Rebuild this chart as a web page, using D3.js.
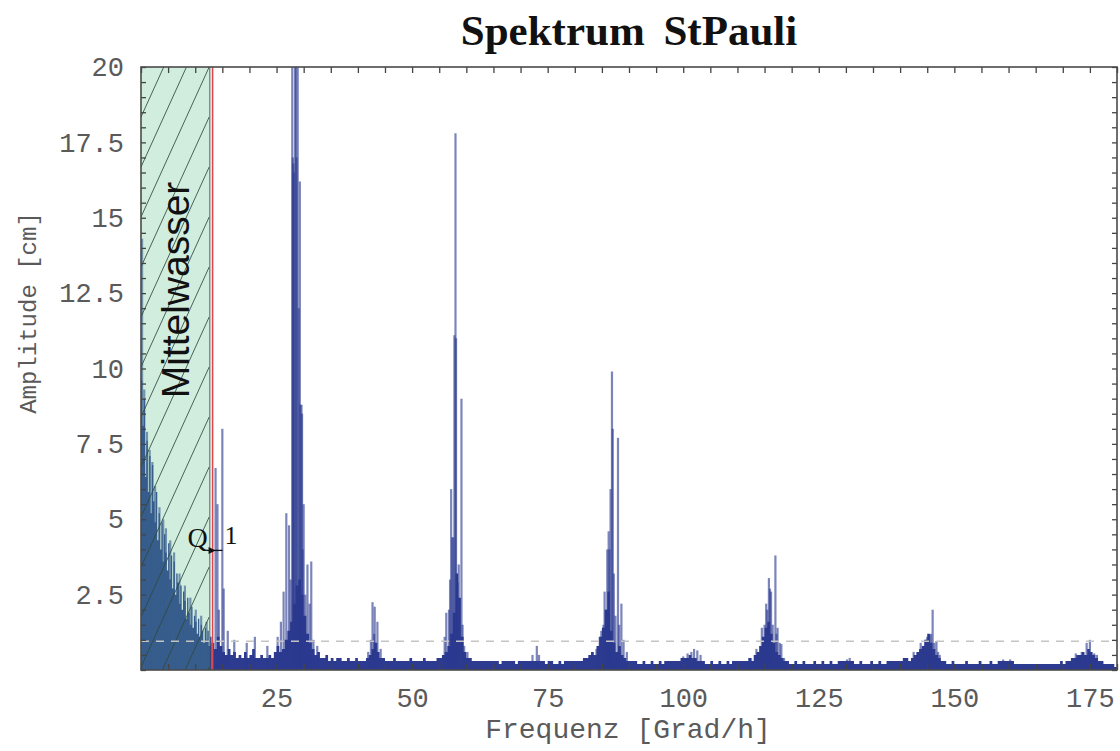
<!DOCTYPE html>
<html>
<head>
<meta charset="utf-8">
<script src="https://cdn.jsdelivr.net/npm/d3@7"></script>
<style>
  html, body { margin: 0; padding: 0; background: #fff; }
  svg { display: block; }
</style>
</head>
<body>
<svg id="chart" width="1120" height="751"></svg>
<script>
// ---------------- DATA ----------------
const title = "Spektrum StPauli";
const xLabel = "Frequenz [Grad/h]";
const yLabel = "Amplitude [cm]";
const xTickLabels = [25, 50, 75, 100, 125, 150, 175];
const yTickLabels = [2.5, 5, 7.5, 10, 12.5, 15, 17.5, 20];
const meanWaterLimit = 12.7;     // end of "Mittelwasser" band [Grad/h]
const q1Frequency = 13.2;        // red line (Q1)
const thresholdAmp = 0.95;       // dashed grey level [cm]

// low-frequency part of the spectrum, 0 .. 12.75 Grad/h, every 0.25
const lowStart = 0, lowStep = 0.25;
const lowAmps = [9.6, 8.1, 9.0, 6.4, 7.6, 5.9, 7.1, 5.2, 6.8, 5.6,
                 4.9, 5.9, 4.3, 5.2, 4.0, 4.9, 3.6, 4.5, 3.9, 3.3,
                 4.2, 3.0, 3.8, 2.7, 3.6, 2.5, 3.2, 2.9, 2.2, 2.8,
                 2.0, 2.6, 2.3, 1.7, 2.4, 1.9, 1.5, 2.1, 1.4, 1.8,
                 1.6, 1.2, 1.7, 1.1, 1.5, 1.3, 0.9, 1.4, 1.0, 1.3,
                 0.8, 1.1];

// background noise floor, 13 .. 180 Grad/h, every 0.5
const noiseStart = 13, noiseStep = 0.5;
const noiseAmps = [
  0.9, 0.7, 1.1, 0.8, 0.6, 0.5, 0.7, 0.5, 0.6, 0.4,   // 13
  0.5, 0.4, 0.6, 0.4, 0.5, 0.7, 0.4, 0.4, 0.5, 0.4,   // 18
  0.4, 0.5, 0.4, 0.6, 0.8, 0.6, 0.7, 1.0, 1.3, 1.6,   // 23
  2.2, 2.8, 3.0, 2.5, 1.8, 1.2, 0.9, 0.7, 0.5, 0.6,   // 28
  0.4, 0.4, 0.5, 0.3, 0.4, 0.3, 0.4, 0.4, 0.3, 0.3,   // 33
  0.4, 0.3, 0.3, 0.4, 0.3, 0.3, 0.3, 0.4, 0.5, 0.7,   // 38
  0.9, 0.6, 0.4, 0.4, 0.3, 0.3, 0.3, 0.4, 0.3, 0.3,   // 43
  0.3, 0.3, 0.3, 0.4, 0.3, 0.3, 0.3, 0.3, 0.4, 0.3,   // 48
  0.3, 0.3, 0.3, 0.4, 0.4, 0.5, 0.6, 0.8, 1.2, 1.9,   // 53
  3.2, 2.4, 1.1, 0.6, 0.4, 0.4, 0.3, 0.3, 0.3, 0.3,   // 58
  0.3, 0.3, 0.3, 0.3, 0.3, 0.3, 0.2, 0.3, 0.3, 0.3,   // 63
  0.3, 0.3, 0.2, 0.3, 0.3, 0.3, 0.3, 0.3, 0.3, 0.3,   // 68
  0.3, 0.3, 0.3, 0.2, 0.3, 0.3, 0.2, 0.2, 0.3, 0.2,   // 73
  0.3, 0.3, 0.3, 0.3, 0.3, 0.3, 0.3, 0.4, 0.4, 0.5,   // 78
  0.6, 0.5, 0.8, 1.1, 1.4, 2.0, 2.6, 1.3, 0.9, 0.6,   // 83
  0.8, 0.5, 0.4, 0.3, 0.3, 0.3, 0.3, 0.2, 0.2, 0.3,   // 88
  0.2, 0.2, 0.3, 0.2, 0.2, 0.3, 0.2, 0.3, 0.3, 0.3,   // 93
  0.3, 0.3, 0.3, 0.4, 0.4, 0.4, 0.5, 0.4, 0.4, 0.3,   // 98
  0.3, 0.3, 0.2, 0.2, 0.3, 0.2, 0.2, 0.3, 0.2, 0.2,   // 103
  0.3, 0.2, 0.3, 0.3, 0.3, 0.3, 0.3, 0.3, 0.4, 0.3,   // 108
  0.5, 0.6, 0.8, 1.1, 1.4, 1.6, 1.2, 0.9, 0.6, 0.5,   // 113
  0.4, 0.3, 0.3, 0.2, 0.2, 0.3, 0.2, 0.2, 0.3, 0.2,   // 118
  0.2, 0.2, 0.3, 0.2, 0.2, 0.3, 0.2, 0.2, 0.3, 0.2,   // 123
  0.2, 0.3, 0.3, 0.3, 0.3, 0.3, 0.3, 0.2, 0.2, 0.3,   // 128
  0.2, 0.2, 0.2, 0.3, 0.2, 0.2, 0.3, 0.2, 0.2, 0.3,   // 133
  0.3, 0.3, 0.3, 0.3, 0.3, 0.4, 0.4, 0.3, 0.4, 0.5,   // 138
  0.6, 0.7, 0.8, 1.0, 1.2, 0.9, 0.7, 0.5, 0.4, 0.3,   // 143
  0.3, 0.2, 0.2, 0.3, 0.2, 0.2, 0.2, 0.2, 0.3, 0.2,   // 148
  0.2, 0.2, 0.2, 0.3, 0.2, 0.2, 0.2, 0.3, 0.2, 0.2,   // 153
  0.3, 0.3, 0.3, 0.3, 0.3, 0.3, 0.2, 0.2, 0.2, 0.2,   // 158
  0.2, 0.2, 0.2, 0.2, 0.2, 0.2, 0.2, 0.2, 0.2, 0.2,   // 163
  0.2, 0.2, 0.2, 0.3, 0.2, 0.3, 0.3, 0.4, 0.4, 0.5,   // 168
  0.5, 0.6, 0.5, 0.7, 0.6, 0.5, 0.4, 0.3, 0.3, 0.2,   // 173
  0.2, 0.2, 0.2, 0.1, 0.1                              // 178
];

// resolved spectral lines (frequency [Grad/h], amplitude [cm])
const lineFreqs = [
  0.2, 0.6, 1.1, 1.6, 2.1, 2.6, 3.4, 4.1, 4.6, 5.4, 6.1, 7.1, 8.1, 9.1, 10.1, 11.1, 12.1,
  13.75, 14.1, 14.35, 15.0, 15.25, 16.0, 17.2, 19.5, 21.0, 23.3,
  25.2, 25.8, 26.3, 26.8, 27.3, 27.6, 27.9, 28.0, 28.1, 28.2, 28.4, 28.6, 28.7, 28.9,
  29.1, 29.3, 29.4, 29.6, 29.7, 29.8, 30.0, 30.3, 30.7, 31.1, 31.4, 31.8, 32.5,
  41.9, 42.4, 42.7, 43.0, 43.1, 43.4, 43.6, 44.2,
  56.0, 56.3, 56.8, 57.0, 57.2, 57.4, 57.6, 57.8, 58.0, 58.1, 58.4, 58.6, 59.1, 59.3, 59.6, 60.2,
  72.2, 73.0, 73.4,
  84.0, 84.6, 84.9, 85.3, 85.5, 85.8, 86.0, 86.25, 86.4, 86.6, 86.86, 87.0, 87.2, 87.5, 87.97, 88.2, 88.6, 89.0, 89.6,
  100.0, 100.8, 101.5, 102.0, 102.6, 103.2,
  112.5, 113.5, 114.0, 114.5, 114.8, 115.0, 115.3, 115.5, 115.8, 116.0, 116.2, 116.5, 117.0, 117.2, 117.4, 117.8, 118.1, 118.6,
  129.5, 130.2, 130.7, 131.2,
  142.5, 143.2, 143.8, 144.3, 144.6, 145.0, 145.4, 145.7, 146.0, 146.3, 146.7, 147.0, 147.3,
  158.3, 159.0, 159.6, 160.3,
  171.3, 172.4, 173.0, 173.5, 174.0, 174.4, 175.0, 175.4, 175.8, 176.3, 177.0
];
const lineAmps = [
  14.3, 9.3, 7.9, 7.3, 6.9, 6.1, 5.4, 5.0, 4.7, 4.3, 3.9, 3.2, 2.8, 2.4, 2.0, 1.8, 1.6,
  6.7, 5.5, 2.0, 8.0, 2.7, 1.3, 1.0, 0.9, 1.1, 0.8,
  1.1, 1.6, 2.6, 5.2, 4.8, 3.0, 22, 17, 16.8, 16.5, 21, 20.5, 17, 24,
  12, 16.2, 8.8, 8.8, 8.5, 4.0, 5.5, 2.5, 3.5, 2.2, 3.6, 1.0, 0.8,
  0.6, 1.0, 2.25, 1.2, 2.1, 0.9, 1.6, 0.7,
  1.1, 1.9, 2.0, 3.0, 6.0, 4.4, 4.4, 11.1, 17.8, 11.0, 2.9, 3.5, 9.0, 1.5, 0.8, 0.6,
  0.5, 0.8, 0.5,
  0.7, 1.1, 1.3, 1.5, 2.6, 2.0, 4.0, 4.6, 4.0, 6.0, 9.9, 8.0, 3.2, 1.8, 7.7, 1.5, 2.2, 1.0, 0.6,
  0.45, 0.55, 0.6, 0.7, 0.65, 0.5,
  0.4, 0.7, 0.6, 1.4, 1.0, 1.5, 2.2, 2.0, 3.05, 2.7, 2.6, 1.5, 3.8, 1.2, 1.4, 0.9, 0.86, 0.4,
  0.3, 0.35, 0.4, 0.3,
  0.6, 0.5, 0.9, 0.8, 1.0, 1.1, 1.15, 1.2, 2.0, 0.9, 0.96, 0.6, 0.5,
  0.3, 0.35, 0.3, 0.35,
  0.3, 0.55, 0.45, 0.6, 0.5, 0.9, 1.0, 0.5, 0.55, 0.5, 0.3
];

// ---------------- CHART ----------------
const m = { left: 141, right: 1117, top: 67, bottom: 670 };
const svg = d3.select("#chart");

const x = d3.scaleLinear().domain([0, 180]).range([m.left, m.right]);
const y = d3.scaleLinear().domain([0, 20]).range([m.bottom, m.top]);

const blue = "#2c3a8f";

const defs = svg.append("defs");
defs.append("clipPath").attr("id", "plotClip")
  .append("rect").attr("x", m.left).attr("y", m.top)
  .attr("width", m.right - m.left).attr("height", m.bottom - m.top);
defs.append("clipPath").attr("id", "mwClip")
  .append("rect").attr("x", x(0)).attr("y", m.top)
  .attr("width", x(meanWaterLimit) - x(0)).attr("height", m.bottom - m.top);

const plot = svg.append("g").attr("clip-path", "url(#plotClip)");

// low-frequency spectrum (step area)
const lowData = lowAmps.map((a, i) => ({ f: lowStart + i * lowStep, a }));
lowData.push({ f: lowStart + lowAmps.length * lowStep, a: lowAmps[lowAmps.length - 1] });
plot.append("path")
  .datum(lowData)
  .attr("fill", blue)
  .attr("d", d3.area().curve(d3.curveStepAfter)
    .x(d => x(d.f)).y0(y(0)).y1(d => y(d.a)));

// noise floor (step area)
const noiseData = noiseAmps.map((a, i) => ({ f: noiseStart + i * noiseStep, a }));
plot.append("path")
  .datum(noiseData)
  .attr("fill", blue)
  .attr("d", d3.area().curve(d3.curveStepAfter)
    .x(d => x(d.f)).y0(y(0)).y1(d => y(d.a)));

// spectral lines
const lines = lineFreqs.map((f, i) => ({ f, a: lineAmps[i] }));
plot.append("g").selectAll("line").data(lines).join("line")
  .attr("x1", d => x(d.f)).attr("x2", d => x(d.f))
  .attr("y1", y(0)).attr("y2", d => y(d.a))
  .attr("stroke", blue).attr("stroke-width", 2.2).attr("stroke-opacity", 0.62);

// Mittelwasser band (semi-transparent green over spectrum) + hatch
const mw = svg.append("g");
mw.append("rect")
  .attr("x", x(0)).attr("y", m.top)
  .attr("width", x(meanWaterLimit) - x(0)).attr("height", m.bottom - m.top)
  .attr("fill", "rgb(84,188,132)").attr("fill-opacity", 0.27);
const hatch = mw.append("g").attr("clip-path", "url(#mwClip)");
const hatchStarts = d3.range(m.top - 200, m.bottom + 60, 50);
hatch.selectAll("line").data(hatchStarts).join("line")
  .attr("x1", x(0)).attr("y1", d => d + 150)
  .attr("x2", x(0) + 150 / 2.2).attr("y2", d => d)
  .attr("stroke", "#2f4a3c").attr("stroke-width", 1).attr("stroke-opacity", 0.85);
mw.append("line")
  .attr("x1", x(meanWaterLimit)).attr("x2", x(meanWaterLimit))
  .attr("y1", m.top).attr("y2", m.bottom)
  .attr("stroke", "#4a5a55").attr("stroke-width", 1);

mw.append("text")
  .attr("transform", `translate(${x(meanWaterLimit / 2) + 14},${290}) rotate(-90)`)
  .attr("text-anchor", "middle")
  .attr("font-family", "Liberation Sans, Arial, sans-serif")
  .attr("font-size", 39)
  .attr("fill", "#111")
  .text("Mittelwasser");

// dashed threshold
svg.append("line")
  .attr("x1", m.left).attr("x2", m.right)
  .attr("y1", y(thresholdAmp)).attr("y2", y(thresholdAmp))
  .attr("stroke", "#c4c4c4").attr("stroke-width", 1.5)
  .attr("stroke-dasharray", "8,7");

// red Q1 line
svg.append("line")
  .attr("x1", x(q1Frequency)).attr("x2", x(q1Frequency))
  .attr("y1", m.top).attr("y2", m.bottom)
  .attr("stroke", "#e0474c").attr("stroke-width", 1.6);

// Q1 annotation
const qx = x(q1Frequency);
const qy = y(4.0);
svg.append("text").attr("x", qx - 25).attr("y", qy - 2)
  .attr("font-family", "Liberation Serif, Times New Roman, serif")
  .attr("font-size", 28).attr("fill", "#111").text("Q");
svg.append("text").attr("x", qx + 12).attr("y", qy - 5)
  .attr("font-family", "Liberation Serif, Times New Roman, serif")
  .attr("font-size", 26).attr("fill", "#111").text("1");
svg.append("line").attr("x1", qx - 6).attr("x2", qx + 10)
  .attr("y1", qy + 1).attr("y2", qy + 1)
  .attr("stroke", "#111").attr("stroke-width", 1.3);
svg.append("path")
  .attr("d", `M${qx + 3},${qy + 1} l-7,-3.5 l0,7 z`)
  .attr("fill", "#111");

// axes: ticks inside on all four sides
const xMinor = d3.range(0, 181, 5);
const yMinor = d3.range(0, 20.01, 0.5);
const monoFont = "Liberation Mono, Courier New, monospace";

const xb = svg.append("g").attr("transform", `translate(0,${m.bottom})`)
  .call(d3.axisBottom(x).tickValues(xMinor).tickSize(-6).tickPadding(18)
    .tickFormat(d => xTickLabels.includes(d) ? d : ""));
const xt = svg.append("g").attr("transform", `translate(0,${m.top})`)
  .call(d3.axisTop(x).tickValues(xMinor).tickSize(-6).tickFormat(""));
const yl = svg.append("g").attr("transform", `translate(${m.left},0)`)
  .call(d3.axisLeft(y).tickValues(yMinor).tickSize(-5).tickPadding(17)
    .tickFormat(d => yTickLabels.includes(d) ? d : ""));
const yr = svg.append("g").attr("transform", `translate(${m.right},0)`)
  .call(d3.axisRight(y).tickValues(yMinor).tickSize(-5).tickFormat(""));

[xb, xt, yl, yr].forEach(g => {
  g.select(".domain").remove();
  g.selectAll(".tick line").attr("stroke", "#444").attr("stroke-width", 1.3);
  g.selectAll("text").attr("font-family", monoFont).attr("font-size", 27)
    .attr("fill", "#5a5a5a");
});

// frame
svg.append("rect")
  .attr("x", m.left).attr("y", m.top)
  .attr("width", m.right - m.left).attr("height", m.bottom - m.top)
  .attr("fill", "none").attr("stroke", "#4a4a4a").attr("stroke-width", 1.6);

// titles
svg.append("text")
  .attr("x", 629).attr("y", 45)
  .attr("text-anchor", "middle")
  .attr("font-family", "Liberation Serif, Times New Roman, serif")
  .attr("font-weight", "bold").attr("font-size", 43)
  .attr("word-spacing", 8)
  .attr("fill", "#111")
  .text(title);

svg.append("text")
  .attr("x", 628).attr("y", 738)
  .attr("text-anchor", "middle")
  .attr("font-family", monoFont).attr("font-size", 28)
  .attr("fill", "#5a5a5a")
  .text(xLabel);

svg.append("text")
  .attr("transform", `translate(36,${313}) rotate(-90)`)
  .attr("text-anchor", "middle")
  .attr("font-family", monoFont).attr("font-size", 24)
  .attr("fill", "#5a5a5a")
  .text(yLabel);
</script>
</body>
</html>
